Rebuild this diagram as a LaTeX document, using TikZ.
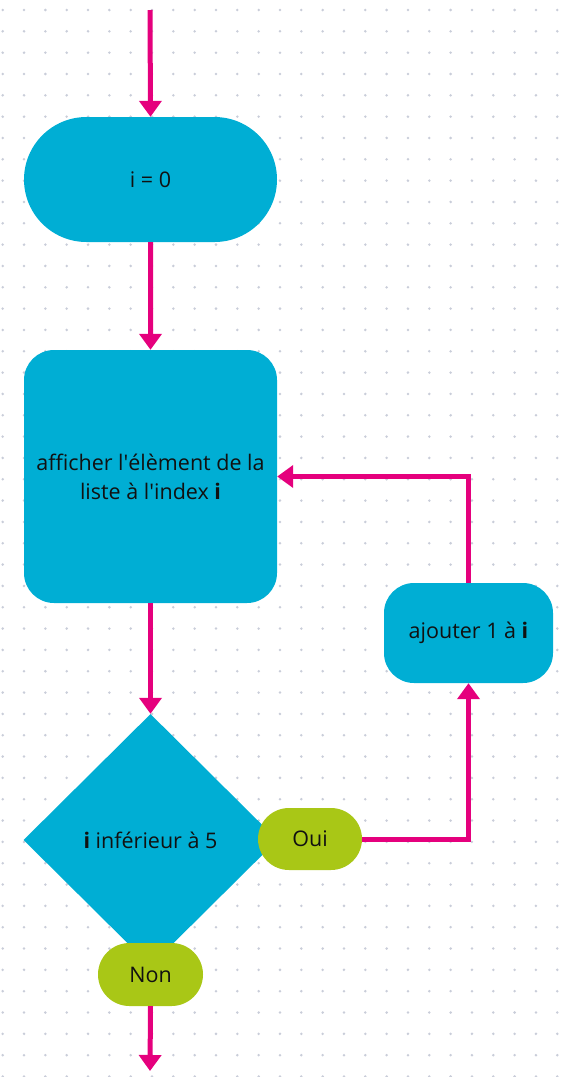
\documentclass[tikz,border=0pt]{standalone}
\usepackage{fontspec}
\setmainfont{Open Sans}
\usetikzlibrary{shapes,arrows.meta,positioning,calc}
\definecolor{flowblue}{HTML}{00AED4}
\definecolor{flowpink}{HTML}{E5007D}
\definecolor{flowgreen}{HTML}{A9C716}
\definecolor{dotgrey}{HTML}{C9CDD9}
\definecolor{ink}{HTML}{111111}

\begin{document}
\begin{tikzpicture}[x=1pt, y=-1pt,
  every node/.style={font=\fontsize{21.5}{29}\selectfont, text=ink},
  term/.style={rounded rectangle, fill=#1, draw=none, inner sep=0pt, align=center},
  box/.style={rectangle, fill=flowblue, rounded corners=#1, inner sep=0pt, align=center},
  test/.style={diamond, fill=flowblue, inner sep=0pt, minimum width=254pt, minimum height=252pt, align=center},
  arr/.style={-{Triangle[width=22pt, length=16pt]}, line width=5pt, flowpink}
]
  \useasboundingbox (0,0) rectangle (572,1077);
  % dotted background
  \foreach \i in {0,...,26}
    \foreach \j in {0,...,50}
      \fill[dotgrey] (2.7+21.33*\i, 10+21.33*\j) circle (1.4pt);

  \coordinate (top) at (150,10);
  \coordinate (bottom) at (150,1071);

  \node[term=flowblue, minimum width=253pt, minimum height=125pt] (start) at (150.5,179.5) {i = 0};
  \node[box=30pt, minimum width=253pt, minimum height=253pt] (show) at (150.5,476.5) {afficher l\textquotesingle élèment de la\\liste à l\textquotesingle index \textbf{i}};
  \node[test] (cond) at (150.5,840) {\textbf{i} inférieur à 5};
  \node[term=flowgreen, minimum width=104pt, minimum height=62pt] (yes) at (310,839) {Oui};
  \node[term=flowgreen, minimum width=105pt, minimum height=63pt] (no) at (150.5,974.5) {Non};
  \node[box=30pt, minimum width=169pt, minimum height=100pt] (incr) at (468.5,633) {ajouter 1 à \textbf{i}};

  \draw[arr] (top) -- (start.north);
  \draw[arr] (start) -- (show);
  \draw[arr] (show) -- (cond.north);
  \draw[arr] (yes.east) -| (incr.south);
  \draw[arr] (incr.north) |- (show.east);
  \draw[arr] (no.south) -- (bottom);
\end{tikzpicture}
\end{document}
